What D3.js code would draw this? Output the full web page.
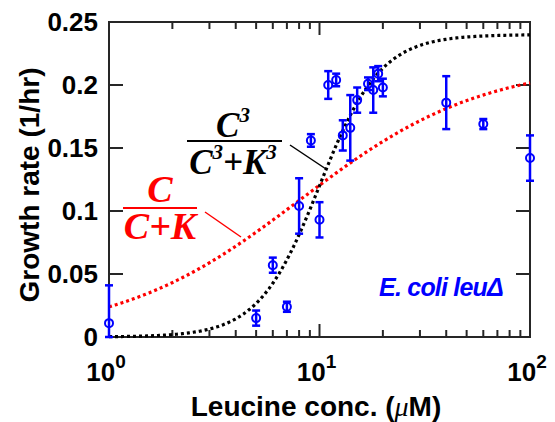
<!DOCTYPE html>
<html>
<head>
<meta charset="utf-8">
<script src="https://cdn.jsdelivr.net/npm/d3@7"></script>
<style>
  body { margin: 0; background: #fff; }
  .tick_text { font-family: "Liberation Sans", Arial, sans-serif; font-weight: bold; fill: #000; }
  .frac { font-family: "Liberation Serif", "Times New Roman", serif; font-weight: bold; font-style: italic; }
</style>
</head>
<body>
<div id="chart"></div>
<script>
// measured data (leucine conc in uM, growth rate in 1/hr, error)
const conc   = [1, 5, 6, 7, 8, 9.1, 10, 11, 12, 12.9, 14, 15.1, 17, 18, 19, 20, 40, 60, 100]
const rate   = [0.011, 0.015, 0.057, 0.024, 0.104, 0.156, 0.093, 0.200, 0.204, 0.160, 0.166, 0.188, 0.201, 0.196, 0.209, 0.198, 0.186, 0.169, 0.142]
const rateErr = [0.030, 0.006, 0.006, 0.004, 0.022, 0.005, 0.014, 0.011, 0.005, 0.012, 0.026, 0.010, 0.005, 0.018, 0.006, 0.007, 0.021, 0.004, 0.018]

// fitted curves
const hillVmax = 0.24, hillK = 10, hillN = 3
const mmVmax = 0.218, mmK = 8.1

const yTicks = [0, 0.05, 0.1, 0.15, 0.2, 0.25]
const yTickLabels = ["0", "0.05", "0.1", "0.15", "0.2", "0.25"]
const xTicks = [1, 10, 100]
const xExponents = ["0", "1", "2"]

const width = 555, height = 422
const mLeft = 109, mRight = 530, mTop = 22, mBottom = 337

let svg = d3.select("#chart").append("svg")
  .attr("width", width).attr("height", height)

let x = d3.scaleLog().domain([1, 100]).range([mLeft, mRight])
let y = d3.scaleLinear().domain([0, 0.25]).range([mBottom, mTop])

const axisColor = "#262626"

// box
svg.append("rect").attr("x", mLeft).attr("y", mTop).attr("width", mRight - mLeft).attr("height", mBottom - mTop)
  .attr("fill", "none").attr("stroke", axisColor).attr("stroke-width", 2)

// x ticks (major + minor), bottom and top, pointing inward
let minor = []
for (let d = 1; d < 100; d *= 10) for (let k = 2; k <= 9; k++) minor.push(d * k)
svg.selectAll(".xminor").data(minor).join("g").each(function(v) {
  let g = d3.select(this)
  g.append("line").attr("x1", x(v)).attr("x2", x(v)).attr("y1", mBottom).attr("y2", mBottom - 7).attr("stroke", axisColor).attr("stroke-width", 2)
  g.append("line").attr("x1", x(v)).attr("x2", x(v)).attr("y1", mTop).attr("y2", mTop + 7).attr("stroke", axisColor).attr("stroke-width", 2)
})
svg.selectAll(".xmajor").data(xTicks).join("g").each(function(v) {
  let g = d3.select(this)
  g.append("line").attr("x1", x(v)).attr("x2", x(v)).attr("y1", mBottom).attr("y2", mBottom - 13).attr("stroke", axisColor).attr("stroke-width", 2)
  g.append("line").attr("x1", x(v)).attr("x2", x(v)).attr("y1", mTop).attr("y2", mTop + 13).attr("stroke", axisColor).attr("stroke-width", 2)
})

// y ticks left and right
svg.selectAll(".ytick").data(yTicks).join("g").each(function(v) {
  let g = d3.select(this)
  g.append("line").attr("x1", mLeft).attr("x2", mLeft + 14).attr("y1", y(v)).attr("y2", y(v)).attr("stroke", axisColor).attr("stroke-width", 2)
  g.append("line").attr("x1", mRight).attr("x2", mRight - 14).attr("y1", y(v)).attr("y2", y(v)).attr("stroke", axisColor).attr("stroke-width", 2)
})

// y tick labels
svg.selectAll(".ylab").data(yTicks).join("text")
  .attr("class", "tick_text")
  .attr("x", mLeft - 11).attr("y", d => y(d) + 9)
  .attr("text-anchor", "end").attr("font-size", 26)
  .text((d, i) => yTickLabels[i])

// x tick labels 10^n
xTicks.forEach((v, i) => {
  let t = svg.append("text").attr("class", "tick_text").attr("font-size", 26)
    .attr("x", x(v) - 3).attr("y", 381).attr("text-anchor", "middle")
  t.append("tspan").text("10")
  t.append("tspan").attr("font-size", 19).attr("dy", -13).text(xExponents[i])
})

// axis labels
svg.append("text").attr("class", "tick_text").attr("font-size", 28)
  .attr("x", 316).attr("y", 416).attr("text-anchor", "middle")
  .call(t => {
    t.append("tspan").text("Leucine conc. (")
    t.append("tspan").attr("font-style", "italic").attr("font-family", "'Liberation Serif', serif").attr("font-weight", "normal").text("\u03bc")
    t.append("tspan").text("M)")
  })
svg.append("text").attr("class", "tick_text").attr("font-size", 28)
  .attr("transform", "translate(39,185) rotate(-90)").attr("text-anchor", "middle")
  .text("Growth rate (1/hr)")

// curves
let cs = d3.range(0, 2.0001, 0.01).map(e => Math.pow(10, e))
let line = d3.line().x(d => x(d[0])).y(d => y(d[1]))
svg.append("path")
  .attr("d", line(cs.map(c => [c, mmVmax * c / (c + mmK)])))
  .attr("fill", "none").attr("stroke", "#ff0000").attr("stroke-width", 3.2).attr("stroke-dasharray", "3,3")
svg.append("path")
  .attr("d", line(cs.map(c => [c, hillVmax * Math.pow(c, hillN) / (Math.pow(c, hillN) + Math.pow(hillK, hillN))])))
  .attr("fill", "none").attr("stroke", "#000").attr("stroke-width", 3.2).attr("stroke-dasharray", "3,3")

// data with error bars
const blue = "#0000ff"
let pts = svg.selectAll(".pt").data(conc).join("g")
pts.append("line").attr("x1", d => x(d)).attr("x2", d => x(d))
  .attr("y1", (d, i) => Math.min(mBottom, y(rate[i] - rateErr[i]))).attr("y2", (d, i) => y(rate[i] + rateErr[i]))
  .attr("stroke", blue).attr("stroke-width", 2.5)
pts.append("line").attr("x1", d => x(d) - 4).attr("x2", d => x(d) + 4)
  .attr("y1", (d, i) => y(rate[i] + rateErr[i])).attr("y2", (d, i) => y(rate[i] + rateErr[i]))
  .attr("stroke", blue).attr("stroke-width", 2.5)
pts.append("line").attr("x1", d => x(d) - 4).attr("x2", d => x(d) + 4)
  .attr("y1", (d, i) => Math.min(mBottom, y(rate[i] - rateErr[i]))).attr("y2", (d, i) => Math.min(mBottom, y(rate[i] - rateErr[i])))
  .attr("stroke", blue).attr("stroke-width", 2.5)
pts.append("circle").attr("cx", d => x(d)).attr("cy", (d, i) => y(rate[i])).attr("r", 4)
  .attr("fill", "none").attr("stroke", blue).attr("stroke-width", 2)

// fraction annotations
let blackFrac = svg.append("g").attr("class", "frac").attr("fill", "#000")
blackFrac.append("text").attr("x", 233).attr("y", 137).attr("text-anchor", "middle").attr("font-size", 35)
  .call(t => { t.append("tspan").text("C"); t.append("tspan").attr("font-size", 21).attr("dy", -15).text("3") })
blackFrac.append("line").attr("x1", 187).attr("x2", 282).attr("y1", 141).attr("y2", 141).attr("stroke", "#000").attr("stroke-width", 2)
blackFrac.append("text").attr("x", 233).attr("y", 174).attr("text-anchor", "middle").attr("font-size", 35)
  .call(t => {
    t.append("tspan").text("C")
    t.append("tspan").attr("font-size", 21).attr("dy", -15).text("3")
    t.append("tspan").attr("dy", 15).text("+K")
    t.append("tspan").attr("font-size", 21).attr("dy", -15).text("3")
  })
svg.append("line").attr("x1", 290).attr("y1", 145).attr("x2", 326).attr("y2", 169).attr("stroke", "#000").attr("stroke-width", 1.5)

let redFrac = svg.append("g").attr("class", "frac").attr("fill", "#ff0000")
redFrac.append("text").attr("x", 160).attr("y", 202).attr("text-anchor", "middle").attr("font-size", 38).text("C")
redFrac.append("line").attr("x1", 123).attr("x2", 197).attr("y1", 208).attr("y2", 208).attr("stroke", "#ff0000").attr("stroke-width", 2)
redFrac.append("text").attr("x", 160).attr("y", 239).attr("text-anchor", "middle").attr("font-size", 38).text("C+K")
svg.append("line").attr("x1", 205).attr("y1", 212).attr("x2", 241).attr("y2", 237).attr("stroke", "#ff0000").attr("stroke-width", 1.5)

// strain label
svg.append("text").attr("x", 503).attr("y", 296).attr("text-anchor", "end")
  .attr("font-family", "'Liberation Sans', Arial, sans-serif").attr("font-weight", "bold").attr("font-style", "italic")
  .attr("font-size", 25).attr("letter-spacing", -0.8).attr("fill", blue).text("E. coli leu\u0394")
</script>
</body>
</html>
